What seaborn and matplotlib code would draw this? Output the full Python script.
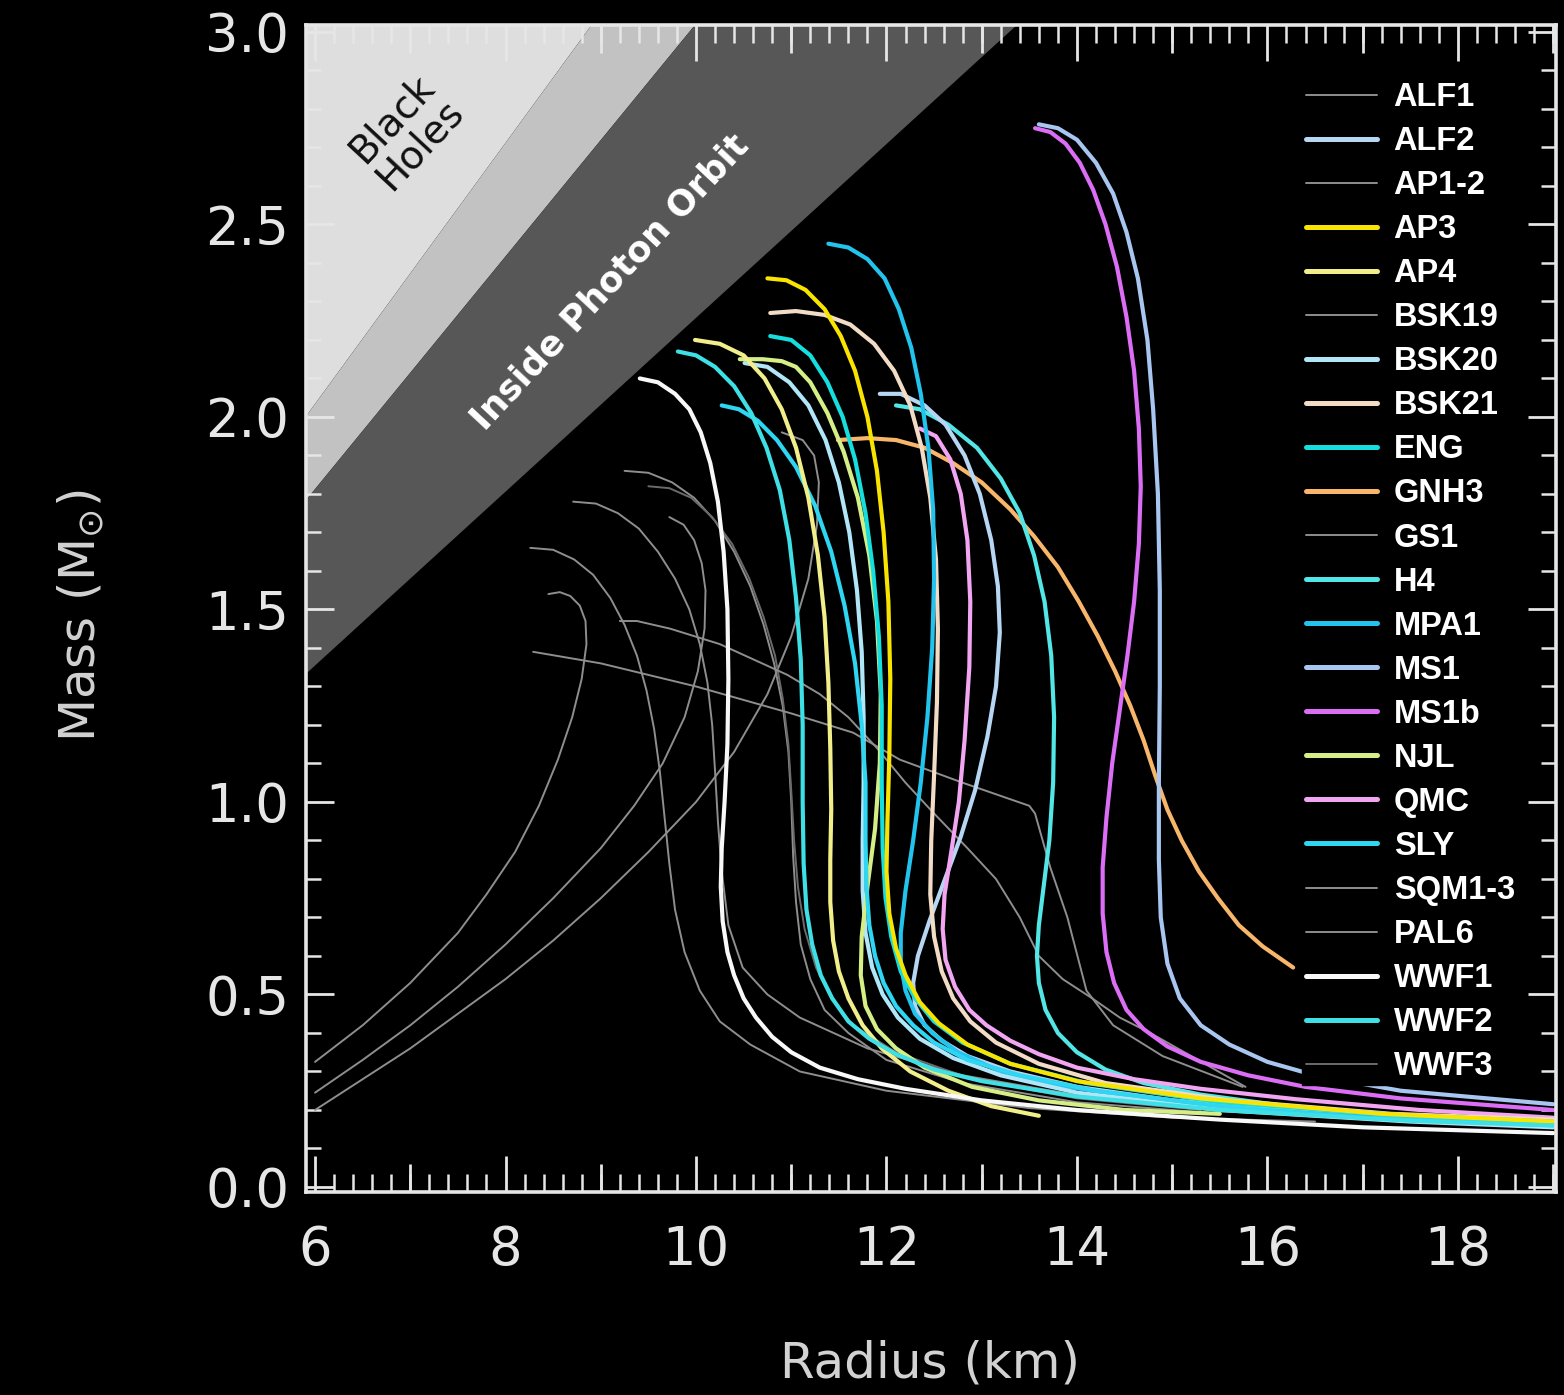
import numpy as np
import pandas as pd
import matplotlib
matplotlib.use("Agg")
import matplotlib.pyplot as plt
from matplotlib.lines import Line2D
from matplotlib.ticker import MultipleLocator
import seaborn as sns

# ---------------- mass-radius relations (R in km, M in solar masses) ----------------
# strange-quark-matter stars
SQM1_R = [6.0, 6.5, 7.0, 7.5, 7.8, 8.1, 8.35, 8.55, 8.7, 8.8, 8.85, 8.84, 8.78, 8.68, 8.57, 8.45]
SQM1_M = [0.325, 0.42, 0.53, 0.66, 0.76, 0.87, 0.99, 1.11, 1.22, 1.32, 1.41, 1.47, 1.51, 1.535, 1.545, 1.54]
SQM2_R = [6.0, 6.5, 7.0, 7.5, 8.0, 8.5, 9.0, 9.35, 9.65, 9.88, 10.02, 10.09, 10.1, 10.06, 9.98, 9.87, 9.72]
SQM2_M = [0.245, 0.33, 0.42, 0.52, 0.63, 0.75, 0.88, 0.99, 1.1, 1.22, 1.34, 1.45, 1.55, 1.62, 1.68, 1.72, 1.74]
SQM3_R = [6.0, 6.5, 7.0, 7.5, 8.0, 8.5, 9.0, 9.5, 10.0, 10.4, 10.75, 11.0, 11.18, 11.27, 11.29, 11.24, 11.12, 10.9]
SQM3_M = [0.2, 0.28, 0.36, 0.45, 0.54, 0.64, 0.75, 0.87, 1.0, 1.13, 1.28, 1.43, 1.58, 1.72, 1.83, 1.9, 1.94, 1.96]

# soft hadronic / hybrid models (thin grey)
AP12_R = [8.26, 8.5, 8.72, 8.92, 9.1, 9.25, 9.38, 9.48, 9.56, 9.62, 9.67, 9.72, 9.78, 9.88, 10.04, 10.25,
          10.57, 11.09, 12.0, 13.5, 15.0, 16.5]
AP12_M = [1.66, 1.655, 1.63, 1.59, 1.53, 1.46, 1.38, 1.29, 1.19, 1.08, 0.96, 0.84, 0.72, 0.61, 0.51, 0.43,
          0.37, 0.3, 0.25, 0.205, 0.18, 0.17]
GS1_R = [8.71, 8.95, 9.18, 9.4, 9.6, 9.78, 9.93, 10.04, 10.12, 10.17, 10.2, 10.23, 10.27, 10.34, 10.49,
         10.75, 11.09, 11.8, 12.8, 14.2, 15.8]
GS1_M = [1.78, 1.775, 1.75, 1.71, 1.65, 1.58, 1.5, 1.41, 1.31, 1.2, 1.08, 0.95, 0.82, 0.68, 0.57,
         0.5, 0.44, 0.36, 0.29, 0.23, 0.2]
BSK19_R = [9.25, 9.5, 9.75, 9.98, 10.2, 10.4, 10.57, 10.71, 10.82, 10.91, 10.97, 11.0, 11.02, 11.05, 11.1,
           11.2, 11.35, 11.6, 12.0, 12.8, 14.0, 15.5]
BSK19_M = [1.86, 1.855, 1.83, 1.79, 1.73, 1.65, 1.56, 1.46, 1.36, 1.25, 1.13, 1.0, 0.86, 0.74, 0.63,
           0.54, 0.46, 0.4, 0.33, 0.27, 0.22, 0.19]
WWF3_R = [9.5, 9.72, 9.95, 10.17, 10.38, 10.56, 10.71, 10.83, 10.91, 10.97, 11.0, 11.03, 11.07, 11.14,
          11.26, 11.42, 11.65, 12.1, 12.9, 14.0, 15.3]
WWF3_M = [1.82, 1.815, 1.79, 1.74, 1.67, 1.58, 1.48, 1.38, 1.27, 1.15, 1.03, 0.9, 0.78, 0.67,
          0.57, 0.49, 0.42, 0.35, 0.28, 0.23, 0.2]
PAL6_R = [8.29, 9.0, 10.0, 11.0, 11.65, 12.14, 12.8, 13.5, 13.56, 13.72, 13.9, 14.1, 14.38, 14.9, 15.74]
PAL6_M = [1.39, 1.36, 1.30, 1.23, 1.18, 1.11, 1.05, 0.99, 0.97, 0.83, 0.70, 0.51, 0.42, 0.34, 0.26]
ALF1_R = [9.2, 9.38, 9.73, 10.25, 10.96, 11.3, 11.6, 11.9, 12.2, 12.5, 12.85, 13.15, 13.4, 13.6, 13.85,
          14.16, 14.45, 14.77, 15.2, 15.77]
ALF1_M = [1.47, 1.47, 1.45, 1.41, 1.33, 1.28, 1.22, 1.14, 1.05, 0.97, 0.88, 0.8, 0.7, 0.6, 0.54,
          0.49, 0.44, 0.40, 0.34, 0.26]

# stiffer models (coloured)
WWF1_R = [9.41, 9.6, 9.78, 9.93, 10.05, 10.15, 10.23, 10.29, 10.33, 10.34, 10.33, 10.3, 10.27, 10.26,
          10.28, 10.33, 10.4, 10.5, 10.63, 10.8, 11.0, 11.3, 11.7, 12.2, 13.0, 14.0, 15.5, 17.0, 19.0]
WWF1_M = [2.10, 2.09, 2.06, 2.02, 1.96, 1.88, 1.78, 1.65, 1.5, 1.32, 1.15, 1.0, 0.88, 0.78,
          0.69, 0.61, 0.55, 0.49, 0.44, 0.39, 0.35, 0.31, 0.28, 0.255, 0.225, 0.2, 0.175, 0.155, 0.14]
WWF2_R = [9.81, 10.0, 10.2, 10.4, 10.58, 10.74, 10.88, 10.98, 11.05, 11.1, 11.12, 11.12, 11.13, 11.16,
          11.22, 11.31, 11.43, 11.6, 11.82, 12.1, 12.5, 13.0, 14.0, 15.5, 17.5, 19.0]
WWF2_M = [2.17, 2.16, 2.13, 2.08, 2.01, 1.92, 1.81, 1.68, 1.53, 1.37, 1.2, 1.0, 0.84, 0.72,
          0.63, 0.55, 0.49, 0.43, 0.385, 0.345, 0.305, 0.275, 0.235, 0.2, 0.172, 0.16]
SLY_R = [10.27, 10.45, 10.65, 10.85, 11.05, 11.25, 11.42, 11.56, 11.67, 11.74, 11.78, 11.78, 11.79,
         11.82, 11.88, 11.97, 12.1, 12.28, 12.5, 12.85, 13.4, 14.2, 15.5, 17.0, 19.0]
SLY_M = [2.03, 2.02, 1.99, 1.94, 1.87, 1.77, 1.65, 1.51, 1.36, 1.2, 1.05, 0.9, 0.78,
         0.68, 0.6, 0.53, 0.47, 0.42, 0.375, 0.33, 0.29, 0.25, 0.21, 0.18, 0.16]
ENG_R = [10.78, 11.0, 11.2, 11.38, 11.54, 11.67, 11.78, 11.86, 11.92, 11.95, 11.95, 11.96, 11.99, 12.05,
         12.15, 12.3, 12.5, 12.8, 13.3, 14.1, 15.5, 17.5, 19.0]
ENG_M = [2.21, 2.2, 2.16, 2.09, 2.0, 1.89, 1.75, 1.6, 1.43, 1.25, 1.05, 0.88, 0.75, 0.65,
         0.56, 0.49, 0.43, 0.375, 0.32, 0.27, 0.22, 0.185, 0.17]
AP3_R = [10.75, 10.95, 11.15, 11.35, 11.52, 11.67, 11.8, 11.9, 11.97, 12.02, 12.04, 12.03, 12.01, 12.0,
         12.03, 12.1, 12.2, 12.35, 12.55, 12.85, 13.3, 14.0, 15.3, 17.2, 19.0]
AP3_M = [2.36, 2.355, 2.33, 2.28, 2.21, 2.12, 2.0, 1.86, 1.7, 1.52, 1.32, 1.12, 0.95, 0.82,
         0.71, 0.62, 0.55, 0.48, 0.425, 0.37, 0.32, 0.275, 0.23, 0.19, 0.17]
AP4_R = [9.99, 10.25, 10.5, 10.72, 10.9, 11.05, 11.18, 11.28, 11.35, 11.39, 11.41, 11.42, 11.41, 11.41,
         11.44, 11.5, 11.6, 11.75, 11.95, 12.25, 12.65, 13.1, 13.6]
AP4_M = [2.2, 2.19, 2.16, 2.1, 2.02, 1.92, 1.79, 1.64, 1.48, 1.31, 1.14, 0.98, 0.85, 0.74,
         0.64, 0.56, 0.49, 0.42, 0.36, 0.3, 0.25, 0.21, 0.185]
NJL_R = [10.46, 10.7, 10.9, 11.05, 11.2, 11.38, 11.55, 11.7, 11.82, 11.9, 11.94, 11.93, 11.88, 11.8,
         11.74, 11.73, 11.78, 11.9, 12.1, 12.4, 12.9, 13.6, 14.5, 15.5]
NJL_M = [2.15, 2.15, 2.145, 2.13, 2.09, 2.01, 1.91, 1.79, 1.64, 1.47, 1.28, 1.1, 0.93, 0.78,
         0.65, 0.55, 0.47, 0.41, 0.36, 0.31, 0.26, 0.225, 0.2, 0.19]
BSK20_R = [10.51, 10.75, 10.98, 11.18, 11.36, 11.5, 11.61, 11.69, 11.74, 11.76, 11.76, 11.75, 11.75,
           11.78, 11.85, 11.96, 12.12, 12.35, 12.7, 13.2, 14.0, 15.5, 17.5, 19.0]
BSK20_M = [2.14, 2.13, 2.09, 2.03, 1.94, 1.83, 1.7, 1.55, 1.39, 1.22, 1.05, 0.9, 0.77,
           0.66, 0.57, 0.5, 0.44, 0.385, 0.335, 0.29, 0.245, 0.2, 0.17, 0.155]
BSK21_R = [10.78, 11.05, 11.35, 11.62, 11.87, 12.08, 12.25, 12.37, 12.46, 12.52, 12.54, 12.53, 12.5,
           12.47, 12.46, 12.5, 12.58, 12.7, 12.88, 13.15, 13.6, 14.3, 15.6, 17.3, 19.0]
BSK21_M = [2.27, 2.275, 2.265, 2.24, 2.19, 2.12, 2.03, 1.92, 1.79, 1.63, 1.45, 1.26, 1.07,
           0.9, 0.76, 0.65, 0.56, 0.49, 0.43, 0.375, 0.32, 0.27, 0.225, 0.19, 0.175]
MPA1_R = [11.39, 11.6, 11.8, 11.98, 12.13, 12.26, 12.36, 12.44, 12.49, 12.5, 12.48, 12.43, 12.36, 12.28,
          12.2, 12.15, 12.15, 12.2, 12.3, 12.48, 12.75, 13.2, 13.9, 15.3, 17.2, 19.0]
MPA1_M = [2.45, 2.44, 2.41, 2.36, 2.28, 2.18, 2.06, 1.92, 1.76, 1.58, 1.4, 1.22, 1.05, 0.9,
          0.77, 0.66, 0.58, 0.51, 0.45, 0.4, 0.35, 0.3, 0.26, 0.21, 0.18, 0.165]
ALF2_R = [11.93, 12.15, 12.4, 12.62, 12.82, 12.98, 13.1, 13.17, 13.19, 13.15, 13.06, 12.93, 12.78, 12.6,
          12.45, 12.33, 12.28, 12.3, 12.4, 12.58, 12.85, 13.3, 14.0, 15.0, 16.5, 19.0]
ALF2_M = [2.06, 2.06, 2.03, 1.98, 1.9, 1.8, 1.68, 1.56, 1.44, 1.3, 1.17, 1.03, 0.91, 0.79,
          0.69, 0.6, 0.53, 0.47, 0.42, 0.38, 0.34, 0.3, 0.26, 0.225, 0.195, 0.17]
QMC_R = [12.35, 12.52, 12.67, 12.78, 12.85, 12.88, 12.87, 12.82, 12.76, 12.68, 12.61, 12.59, 12.62,
         12.72, 12.87, 13.05, 13.3, 13.6, 14.0, 14.6, 15.3, 16.3, 17.6, 19.0]
QMC_M = [1.97, 1.95, 1.89, 1.8, 1.68, 1.52, 1.35, 1.16, 1.0, 0.87, 0.76, 0.67, 0.59,
         0.52, 0.46, 0.42, 0.38, 0.345, 0.31, 0.28, 0.255, 0.228, 0.2, 0.18]
H4_R = [12.1, 12.35, 12.65, 12.95, 13.2, 13.4, 13.55, 13.66, 13.73, 13.76, 13.75, 13.71, 13.65, 13.6,
        13.58, 13.6, 13.67, 13.8, 14.0, 14.3, 14.7, 15.3, 16.5, 19.0]
H4_M = [2.03, 2.02, 1.98, 1.92, 1.84, 1.75, 1.64, 1.52, 1.38, 1.22, 1.05, 0.9, 0.78, 0.68,
        0.6, 0.53, 0.46, 0.4, 0.35, 0.305, 0.27, 0.24, 0.2, 0.165]
GNH3_R = [11.49, 11.8, 12.1, 12.4, 12.7, 13.0, 13.3, 13.55, 13.8, 14.02, 14.22, 14.4, 14.56, 14.7,
          14.82, 14.95, 15.1, 15.28, 15.48, 15.7, 15.95, 16.27]
GNH3_M = [1.94, 1.945, 1.94, 1.92, 1.88, 1.83, 1.76, 1.69, 1.61, 1.52, 1.43, 1.34, 1.25, 1.16,
          1.07, 0.98, 0.9, 0.82, 0.75, 0.68, 0.625, 0.57]
MS1B_R = [13.56, 13.72, 13.88, 14.03, 14.17, 14.3, 14.42, 14.52, 14.6, 14.65, 14.67, 14.65, 14.6, 14.53,
          14.45, 14.37, 14.31, 14.27, 14.27, 14.31, 14.39, 14.52, 14.7, 14.95, 15.3, 15.8, 16.4, 17.4, 19.0]
MS1B_M = [2.75, 2.74, 2.71, 2.66, 2.59, 2.5, 2.39, 2.26, 2.12, 1.97, 1.82, 1.67, 1.52, 1.38,
          1.24, 1.1, 0.96, 0.83, 0.71, 0.61, 0.53, 0.46, 0.41, 0.365, 0.325, 0.29, 0.26, 0.23, 0.2]
MS1_R = [13.6, 13.8, 14.0, 14.2, 14.38, 14.52, 14.64, 14.74, 14.8, 14.85, 14.87, 14.87, 14.86, 14.86,
         14.88, 14.95, 15.08, 15.3, 15.6, 16.0, 16.5, 17.4, 19.0]
MS1_M = [2.76, 2.75, 2.72, 2.66, 2.58, 2.48, 2.36, 2.2, 2.02, 1.8, 1.55, 1.3, 1.05, 0.85,
         0.7, 0.58, 0.49, 0.42, 0.37, 0.325, 0.29, 0.25, 0.215]

# forbidden regions: R < k * M (k in km per solar mass)
K_HORIZON = 2.95     # Schwarzschild radius
K_BUCHDAHL = 3.31    # Buchdahl limit
K_PHOTON = 4.43      # photon sphere

LEGEND_ORDER = ["ALF1", "ALF2", "AP1-2", "AP3", "AP4", "BSK19", "BSK20", "BSK21", "ENG",
                "GNH3", "GS1", "H4", "MPA1", "MS1", "MS1b", "NJL", "QMC", "SLY",
                "SQM1-3", "PAL6", "WWF1", "WWF2", "WWF3"]

GREY = "#8e8e8e"
PALETTE = {
    "ALF1": GREY, "ALF2": "#b6d6f4", "AP1-2": GREY, "AP3": "#f8e400", "AP4": "#f2ee8a",
    "BSK19": GREY, "BSK20": "#b0e6f8", "BSK21": "#f2dcc6", "ENG": "#16dede",
    "GNH3": "#f8b66a", "GS1": GREY, "H4": "#52e6e6", "MPA1": "#22c4ee", "MS1": "#a8c6f0",
    "MS1b": "#dc6ef6", "NJL": "#d6ee86", "QMC": "#f2a6f2", "SLY": "#2ed6f2",
    "SQM1-3": GREY, "PAL6": GREY, "WWF1": "#f8f8f8", "WWF2": "#3ee0e6", "WWF3": "#6a6a6a",
}
THIN = {"ALF1", "AP1-2", "BSK19", "GS1", "SQM1-3", "PAL6", "WWF3"}
WIDTHS = {k: (1.4 if k in THIN else 3.0) for k in LEGEND_ORDER}

curves = [
    ("SQM1-3", SQM1_R, SQM1_M), ("SQM1-3", SQM2_R, SQM2_M), ("SQM1-3", SQM3_R, SQM3_M),
    ("AP1-2", AP12_R, AP12_M), ("GS1", GS1_R, GS1_M), ("BSK19", BSK19_R, BSK19_M),
    ("WWF3", WWF3_R, WWF3_M), ("PAL6", PAL6_R, PAL6_M), ("ALF1", ALF1_R, ALF1_M),
    ("GNH3", GNH3_R, GNH3_M), ("MS1", MS1_R, MS1_M), ("MS1b", MS1B_R, MS1B_M),
    ("H4", H4_R, H4_M), ("ALF2", ALF2_R, ALF2_M), ("QMC", QMC_R, QMC_M),
    ("BSK21", BSK21_R, BSK21_M), ("MPA1", MPA1_R, MPA1_M), ("BSK20", BSK20_R, BSK20_M),
    ("NJL", NJL_R, NJL_M), ("ENG", ENG_R, ENG_M), ("SLY", SLY_R, SLY_M),
    ("AP4", AP4_R, AP4_M), ("AP3", AP3_R, AP3_M), ("WWF2", WWF2_R, WWF2_M),
    ("WWF1", WWF1_R, WWF1_M),
]

rows = []
for cid, (name, rr, mm) in enumerate(curves):
    for i, (r, m) in enumerate(zip(rr, mm)):
        rows.append({"eos": name, "curve": cid, "step": i, "R": r, "M": m})
df = pd.DataFrame(rows)
draw_order = list(dict.fromkeys(c[0] for c in curves))

# ---------------- styling ----------------
sns.set_theme(style="dark", rc={
    "figure.facecolor": "black", "axes.facecolor": "black",
    "axes.edgecolor": "#e6e6e6", "text.color": "#e6e6e6",
    "xtick.color": "#e6e6e6", "ytick.color": "#e6e6e6",
    "axes.labelcolor": "#d2d2d2", "axes.grid": False,
})
plt.rcParams["font.family"] = ["DejaVu Sans"]
plt.rcParams["mathtext.fontset"] = "dejavusans"

fig = plt.figure(figsize=(15.64, 13.95), dpi=100)
ax = fig.add_axes([306 / 1564, 203 / 1395, 1250 / 1564, 1167 / 1395])
x0, x1 = 5.905, 19.03
y0, y1 = -0.013, 3.018
ax.set_xlim(x0, x1)
ax.set_ylim(y0, y1)

# shaded forbidden zones
edge = np.array([x0, x1])
ax.fill_between(edge, edge / K_HORIZON, y1 + 1, color="#dedede", lw=0, zorder=0)
ax.fill_between(edge, edge / K_BUCHDAHL, edge / K_HORIZON, color="#c2c2c2", lw=0, zorder=0)
ax.fill_between(edge, edge / K_PHOTON, edge / K_BUCHDAHL, color="#575757", lw=0, zorder=0)

ax.text(6.95, 2.74, "Black\nHoles", rotation=47, rotation_mode="anchor",
        ha="center", va="center", fontsize=28, color="#111111", linespacing=1.0, zorder=1)
ax.text(9.1, 2.35, "Inside Photon Orbit", rotation=47, rotation_mode="anchor",
        ha="center", va="center", fontsize=25.5, fontweight="bold", color="white", zorder=1)

sns.lineplot(data=df, x="R", y="M", hue="eos", hue_order=draw_order, palette=PALETTE,
             size="eos", size_order=draw_order, sizes=WIDTHS, units="curve",
             estimator=None, sort=False, legend=False, ax=ax,
             solid_capstyle="round", solid_joinstyle="round", zorder=2)

# axes, ticks
ax.set_xticks([6, 8, 10, 12, 14, 16, 18])
ax.set_yticks([0.0, 0.5, 1.0, 1.5, 2.0, 2.5, 3.0])
ax.set_yticklabels(["0.0", "0.5", "1.0", "1.5", "2.0", "2.5", "3.0"])
ax.xaxis.set_minor_locator(MultipleLocator(0.2))
ax.yaxis.set_minor_locator(MultipleLocator(0.1))
ax.tick_params(which="both", direction="in", top=True, right=True, bottom=True, left=True,
               colors="#e6e6e6", labelsize=38)
ax.tick_params(axis="x", which="major", length=26, width=2.0, pad=23)
ax.tick_params(axis="x", which="minor", length=13, width=1.8)
ax.tick_params(axis="y", which="major", length=20, width=2.0, pad=12)
ax.tick_params(axis="y", which="minor", length=10.5, width=1.8)
for sp in ax.spines.values():
    sp.set_visible(True)
    sp.set_color("#e6e6e6")
    sp.set_linewidth(2.6)
    sp.set_zorder(6)

# intermediate ticks at odd kilometres on the bottom and top edges
for loc in ("bottom", "top"):
    sec = ax.secondary_xaxis(loc)
    sec.set_xticks([7, 9, 11, 13, 15, 17, 19])
    sec.tick_params(direction="in", length=20, width=2.0, colors="#e6e6e6",
                    labelbottom=False, labeltop=False)
    for sp in sec.spines.values():
        sp.set_visible(False)

ax.set_xlabel("Radius (km)", fontsize=36, color="#d2d2d2")
ax.set_ylabel("Mass (M$_{\\odot}$)", fontsize=36, color="#d2d2d2")
ax.xaxis.set_label_coords(0.499, -0.126)
ax.yaxis.set_label_coords(-0.16, 0.494)

handles = [Line2D([], [], color=PALETTE[n], lw=(1.4 if n in THIN else 3.6),
                  solid_capstyle="round") for n in LEGEND_ORDER]
leg = ax.legend(handles, LEGEND_ORDER, loc="upper left", bbox_to_anchor=(0.797, 0.954),
                frameon=True, facecolor="black", edgecolor="black", framealpha=1.0,
                fancybox=False, borderpad=0.1, borderaxespad=0.0,
                handlelength=2.2, handletextpad=0.5, labelspacing=0.40,
                prop={"family": ["Liberation Sans", "DejaVu Sans"], "weight": "bold", "size": 23.5})
for t in leg.get_texts():
    t.set_color("white")
leg.set_zorder(5)

fig.savefig("out.png", dpi=100, facecolor="black")
